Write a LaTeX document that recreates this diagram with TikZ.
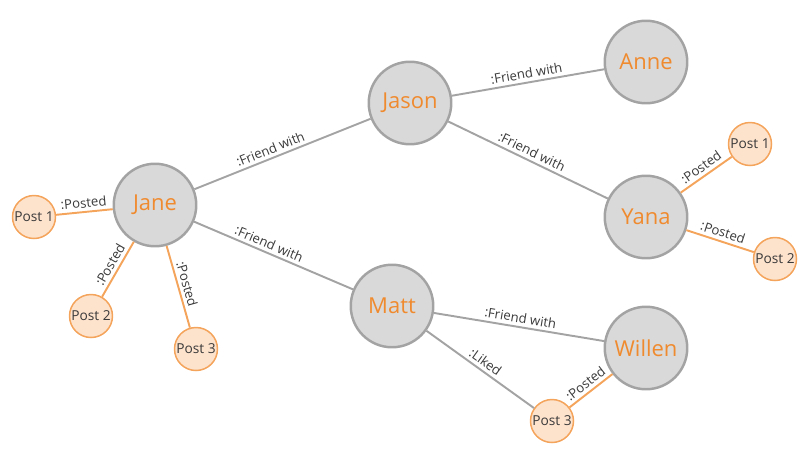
\documentclass[tikz,border=0pt]{standalone}
\usepackage{fontspec}
\setmainfont{Open Sans}
\usepackage{tikz}
\usetikzlibrary{positioning}

\definecolor{nodegray}{HTML}{D9D9D9}
\definecolor{rimgray}{HTML}{A3A3A3}
\definecolor{nameorange}{HTML}{F08A2E}
\definecolor{postfill}{HTML}{FDE2CC}
\definecolor{postorange}{HTML}{F5A45C}
\definecolor{labeldark}{HTML}{3A3A3A}

\begin{document}
\begin{tikzpicture}[x=0.02cm, y=-0.02cm, every node/.style={align=center},
	person/.style={circle, draw=rimgray, fill=nodegray, line width=1.4pt, minimum size=1.65cm, inner sep=0pt, text=nameorange, font=\fontsize{12.5}{14}\selectfont},
	postcirc/.style={circle, draw=postorange, fill=postfill, line width=0.85pt, minimum size=0.86cm, inner sep=0pt, text=labeldark, font=\fontsize{7.8}{9}\selectfont},
	friendline/.style={draw=rimgray, line width=1.1pt},
	postedline/.style={draw=postorange, line width=1.1pt},
	lbl/.style={sloped, above, inner sep=1.8pt, text=labeldark, font=\fontsize{7.5}{8}\selectfont}]

				\useasboundingbox (0,0) rectangle (808,454);

				\node [person] (JN) at (155,205) {Jane};
				\node [person] (JS) at (410,103) {Jason};
				\node [person] (AN) at (646,62) {Anne};
				\node [person] (YN) at (646,217) {Yana};
				\node [person] (MT) at (392,306) {Matt};
				\node [person] (WL) at (646,348) {Willen};

				\node [postcirc] (JNP1) at (34,217) {Post 1};
				\node [postcirc] (JNP2) at (91,316) {Post 2};
				\node [postcirc] (JNP3) at (196,349) {Post 3};
				\node [postcirc] (YNP1) at (750,144) {Post 1};
				\node [postcirc] (YNP2) at (775,259) {Post 2};
				\node [postcirc] (WLP3) at (552,421) {Post 3};

				\draw[friendline] (JN) edge node [lbl, pos=0.45] {:Friend with} (JS);
				\draw[friendline] (JN) edge node [lbl, pos=0.45] {:Friend with} (MT);
				\draw[friendline] (JS) edge node [lbl] {:Friend with} (AN);
				\draw[friendline] (JS) edge node [lbl] {:Friend with} (YN);
				\draw[friendline] (MT) edge node [lbl] {:Friend with} (WL);
				\draw[friendline] (MT) edge node [lbl] {:Liked} (WLP3);

				\draw[postedline] (JNP1) edge node [lbl] {:Posted} (JN);
				\draw[postedline] (JNP2) edge node [lbl] {:Posted} (JN);
				\draw[postedline] (JN) edge node [lbl] {:Posted} (JNP3);
				\draw[postedline] (YN) edge node [lbl] {:Posted} (YNP1);
				\draw[postedline] (YN) edge node [lbl] {:Posted} (YNP2);
				\draw[postedline] (WLP3) edge node [lbl] {:Posted} (WL);

\end{tikzpicture}
\end{document}
